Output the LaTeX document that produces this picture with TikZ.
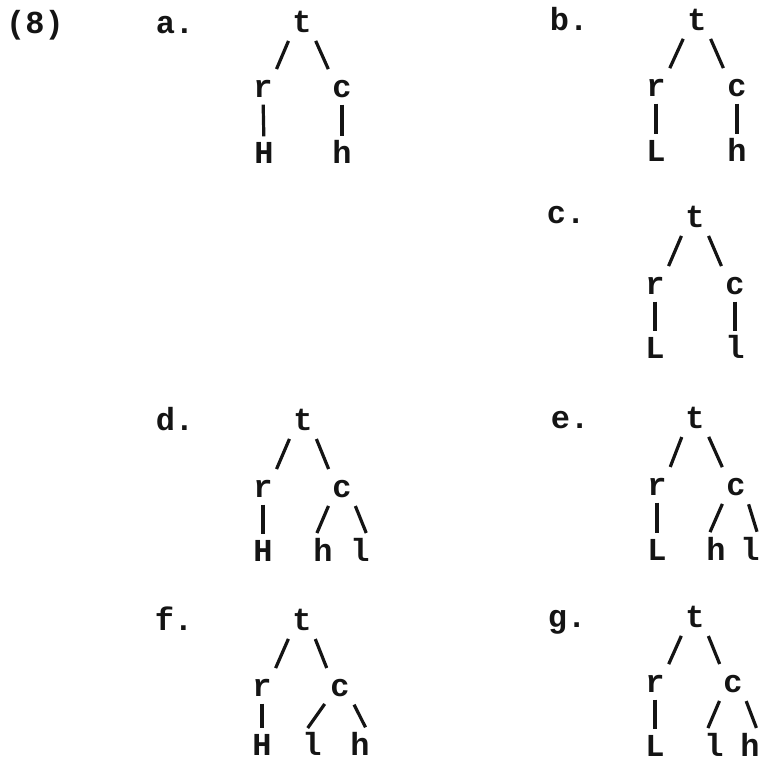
\documentclass[tikz,border=0pt]{standalone}
\usepackage{fontspec}
\setmonofont{Liberation Mono}
\usepackage{tikz}
\definecolor{inkx}{HTML}{141414}
\tikzset{
  tx/.style={font=\ttfamily\bfseries\fontsize{32}{34}\selectfont,text=inkx,anchor=base,inner sep=0pt},
  nd/.style={tx,text height=19pt,text depth=0pt},
  br/.style={draw=inkx,line width=3.2pt,shorten <=9.5pt,shorten >=9.5pt},
  vb/.style={br,shorten <=7.5pt,shorten >=7.5pt}
}
\begin{document}
\begin{tikzpicture}[x=1pt,y=-1pt]
\useasboundingbox (0,0) rectangle (762,763);
% labels
\node[tx] (n8) at (35,33) {(8)};
\node[tx] (la) at (175,33) {a.};
\node[tx] (lb) at (569,30) {b.};
\node[tx] (lc) at (566,223) {c.};
\node[tx] (ld) at (175,430) {d.};
\node[tx] (le) at (570,428) {e.};
\node[tx] (lf) at (174,630) {f.};
\node[tx] (lg) at (567,627) {g.};
% tree a
\node[nd] (at) at (302,32) {t};
\node[nd] (ar) at (263,97) {r};
\node[nd] (ac) at (342,97) {c};
\node[nd] (aH) at (264,163) {H};
\node[nd] (ah) at (342,163) {h};
\path[br] (at.south west) edge (ar.north east) (at.south east) edge (ac.north west);
\path[vb] (ar.south) edge (aH.north) (ac.south) edge (ah.north);
% tree b
\node[nd] (bt) at (697,30) {t};
\node[nd] (br) at (656,96) {r};
\node[nd] (bc) at (737,96) {c};
\node[nd] (bL) at (656,161) {L};
\node[nd] (bh) at (737,161) {h};
\path[br] (bt.south west) edge (br.north east) (bt.south east) edge (bc.north west);
\path[vb] (br.south) edge (bL.north) (bc.south) edge (bh.north);
% tree c
\node[nd] (ct) at (695,227) {t};
\node[nd] (cr) at (655,294) {r};
\node[nd] (cc) at (735,294) {c};
\node[nd] (cL) at (655,358) {L};
\node[nd] (cl) at (735,358) {l};
\path[br] (ct.south west) edge (cr.north east) (ct.south east) edge (cc.north west);
\path[vb] (cr.south) edge (cL.north) (cc.south) edge (cl.north);
% tree d
\node[nd] (dt) at (303,430) {t};
\node[nd] (dr) at (263,497) {r};
\node[nd] (dc) at (342,497) {c};
\node[nd] (dH) at (263,561) {H};
\node[nd] (dh) at (323,561) {h};
\node[nd] (dl) at (360,561) {l};
\path[br] (dt.south west) edge (dr.north east) (dt.south east) edge (dc.north west);
\path[vb] (dr.south) edge (dH.north);
\path[br] (dc.south west) edge (dh.north west) (dc.south east) edge (dl.north east);
% tree e
\node[nd] (et) at (695,428) {t};
\node[nd] (er) at (657,495) {r};
\node[nd] (ec) at (736,495) {c};
\node[nd] (eL) at (657,560) {L};
\node[nd] (eh) at (716,560) {h};
\node[nd] (el) at (750,560) {l};
\path[br] (et.south west) edge (er.north east) (et.south east) edge (ec.north west);
\path[vb] (er.south) edge (eL.north);
\path[br] (ec.south west) edge (eh.north west) (ec.south east) edge (el.north east);
% tree f
\node[nd] (ft) at (302,630) {t};
\node[nd] (fr) at (262,696) {r};
\node[nd] (fc) at (340,696) {c};
\node[nd] (fH) at (262,755) {H};
\node[nd] (fl) at (312,755) {l};
\node[nd] (fh) at (360,755) {h};
\path[br] (ft.south west) edge (fr.north east) (ft.south east) edge (fc.north west);
\path[vb] (fr.south) edge (fH.north);
\path[br] (fc.south west) edge (fl.north west) (fc.south east) edge (fh.north east);
% tree g
\node[nd] (gt) at (695,627) {t};
\node[nd] (gr) at (655,692) {r};
\node[nd] (gc) at (733,692) {c};
\node[nd] (gL) at (655,756) {L};
\node[nd] (gl) at (714,756) {l};
\node[nd] (gh) at (750,756) {h};
\path[br] (gt.south west) edge (gr.north east) (gt.south east) edge (gc.north west);
\path[vb] (gr.south) edge (gL.north);
\path[br] (gc.south west) edge (gl.north west) (gc.south east) edge (gh.north east);
\end{tikzpicture}
\end{document}
